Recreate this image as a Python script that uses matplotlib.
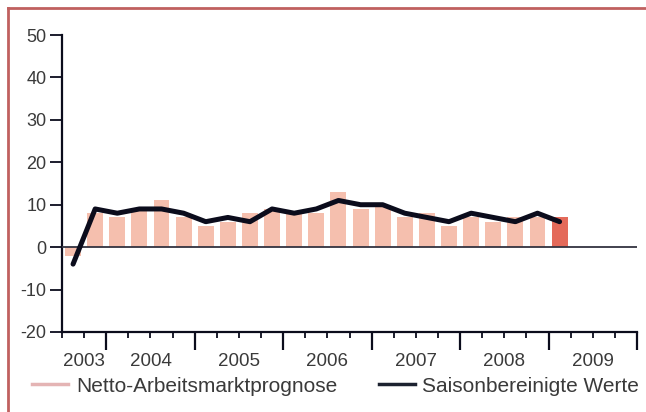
import matplotlib
matplotlib.use("Agg")
import matplotlib.pyplot as plt
from matplotlib.lines import Line2D
from matplotlib.ticker import MultipleLocator, FixedLocator
import matplotlib.transforms as mtransforms

plt.rcParams['font.family'] = ['Liberation Sans', 'DejaVu Sans']
plt.rcParams['axes.unicode_minus'] = False

# quarterly values, 2003 Q3 .. 2009 Q1
netto = [-2, 8, 7, 9, 11, 7, 5, 6, 8, 9, 8, 8, 13, 9, 10, 7, 8, 5, 7, 6, 7, 7, 7]
saison = [-4, 9, 8, 9, 9, 8, 6, 7, 6, 9, 8, 9, 11, 10, 10, 8, 7, 6, 8, 7, 6, 8, 6]
years = ['2003', '2004', '2005', '2006', '2007', '2008', '2009']
quarters_per_year = [2, 4, 4, 4, 4, 4, 4]
yticks = [-20, -10, 0, 10, 20, 30, 40, 50]

text_col = '#3a3a3a'
dark = '#0b0c1c'
bar_col = '#f5bfae'
last_col = '#e46a5a'

fig = plt.figure(figsize=(6.46, 4.12), dpi=100)
ax = fig.add_axes([62 / 646, 1 - 332 / 412, (637 - 62) / 646, (332 - 35) / 412])

xs = [i + 0.5 for i in range(len(netto))]
colors = [bar_col] * (len(netto) - 1) + [last_col]
ax.bar(xs, netto, width=0.72, color=colors, zorder=2)
ax.axhline(0, color='#333340', lw=1.3, zorder=3)
ax.plot(xs, saison, color=dark, lw=3.6, solid_joinstyle='round',
        solid_capstyle='round', zorder=4)

total = sum(quarters_per_year)
ax.set_xlim(0, total)
ax.set_ylim(-20, 50)

for s in ['top', 'right']:
    ax.spines[s].set_visible(False)
for s in ['left', 'bottom']:
    ax.spines[s].set_color(dark)
    ax.spines[s].set_linewidth(1.6)

ax.set_yticks(yticks)
ax.tick_params(axis='y', direction='out', length=9, width=1.3, color=dark,
               labelsize=13, labelcolor=text_col, pad=2)

bounds = []
acc = 0
for q in quarters_per_year:
    acc += q
    bounds.append(acc)
ax.xaxis.set_major_locator(FixedLocator(bounds))
ax.xaxis.set_minor_locator(MultipleLocator(1))
ax.tick_params(axis='x', which='major', direction='out', length=13, width=1.6,
               color=dark, labelbottom=False)
ax.tick_params(axis='x', which='minor', direction='out', length=4, width=1.3,
               color=dark)

trans = mtransforms.blended_transform_factory(ax.transData, fig.transFigure)
start = 0
for y, q in zip(years, quarters_per_year):
    ax.text(start + q / 2, 1 - 361 / 412, y, transform=trans, ha='center',
            va='center', fontsize=13.5, color=text_col)
    start += q

handles = [Line2D([], [], color='#e4b4b4', lw=2.5),
           Line2D([], [], color='#1c2230', lw=2.5)]
fig.legend(handles, ['Netto-Arbeitsmarktprognose', 'Saisonbereinigte Werte'],
           loc='center left', bbox_to_anchor=(32 / 646, 1 - 386 / 412), ncol=2,
           frameon=False, fontsize=15, labelcolor=text_col, handlelength=1.75,
           handletextpad=0.35, columnspacing=2.0, borderaxespad=0, borderpad=0)

border = '#c0605f'
fig.add_artist(Line2D([8 / 646, 8 / 646], [0, 1 - 8 / 412], color=border, lw=2,
                      transform=fig.transFigure))
fig.add_artist(Line2D([8 / 646, 1], [1 - 8 / 412, 1 - 8 / 412], color=border, lw=2,
                      transform=fig.transFigure))

fig.savefig('out.png', dpi=100)
